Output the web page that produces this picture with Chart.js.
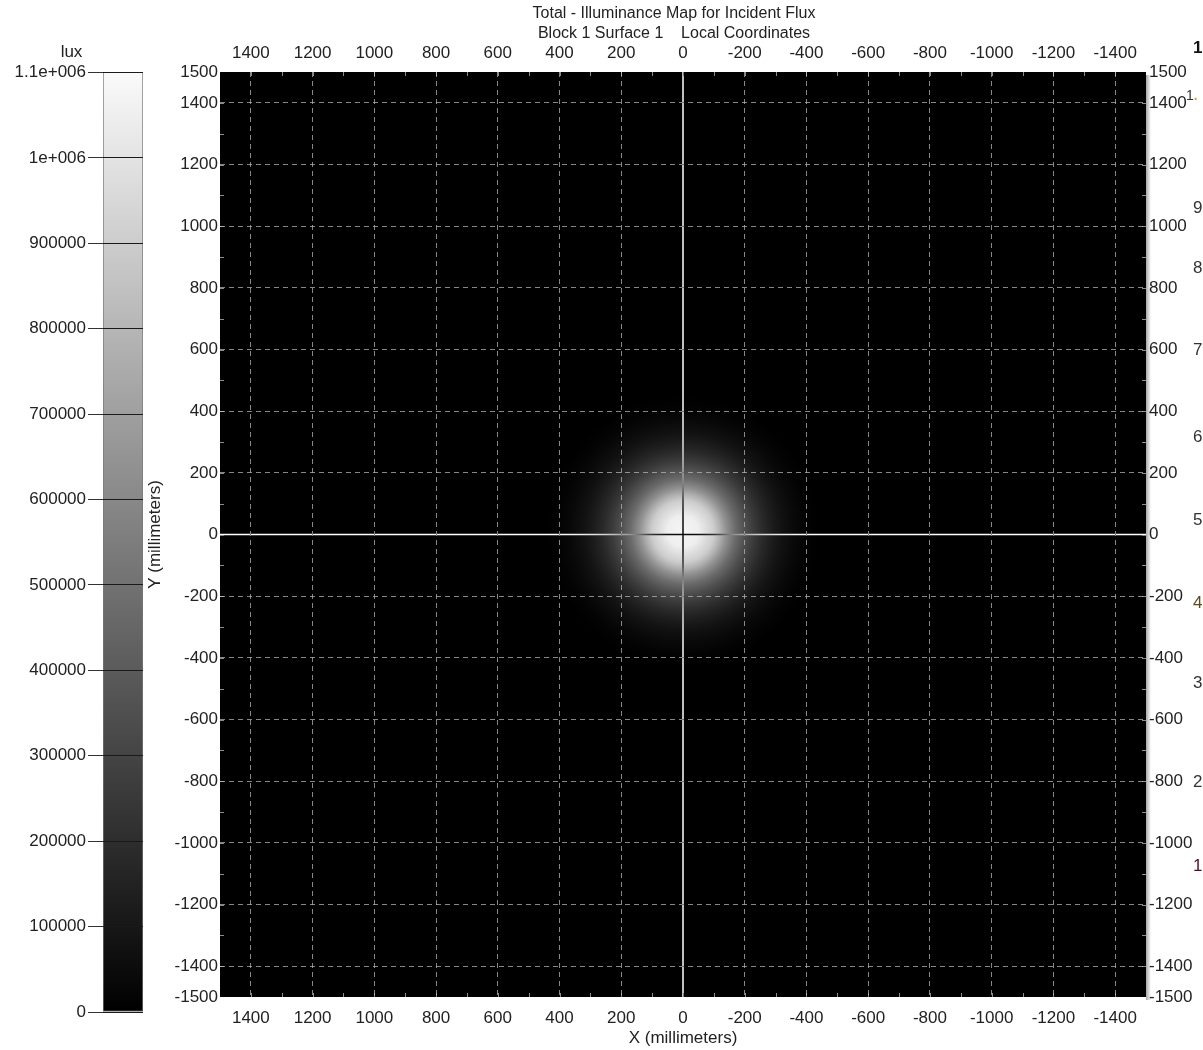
<!DOCTYPE html>
<html>
<head>
<meta charset="utf-8">
<title>Total - Illuminance Map for Incident Flux</title>
<script src="https://cdn.jsdelivr.net/npm/chart.js@4.4.1/dist/chart.umd.min.js"></script>
<style>
  html, body { margin: 0; padding: 0; background: #fff; }
  body { width: 1203px; height: 1050px; position: relative; overflow: hidden; font-family: "Liberation Sans", Arial, sans-serif; }
  #barWrap { position: absolute; left: 0; top: 0; width: 145px; height: 1050px; }
  #mapWrap { position: absolute; left: 145px; top: 0; width: 1058px; height: 1050px; }
  #edge { position: absolute; left: 1185px; top: 0; width: 18px; height: 1050px; overflow: hidden; }
  #edge span { position: absolute; left: 8px; font-size: 17px; line-height: 20px; color: #333; }
</style>
</head>
<body>
<div id="barWrap"><canvas id="luxBar"></canvas></div>
<div id="mapWrap"><canvas id="luxMap"></canvas></div>
<div id="edge">
  <span style="top:38px;font-weight:bold;color:#111">1</span>
  <span style="top:85px;left:1px;font-size:14px;color:#333">1<b style="color:#e0a030">.</b></span>
  <span style="top:198px">9</span>
  <span style="top:258px">8</span>
  <span style="top:340px">7</span>
  <span style="top:427px">6</span>
  <span style="top:510px">5</span>
  <span style="top:593px;color:#5a4a20">4</span>
  <span style="top:673px">3</span>
  <span style="top:772px">2</span>
  <span style="top:856px;color:#4a1024">1</span>
</div>
<script>
// colour scale (lux)
const luxMax = 1100000;
const luxTicks = [0, 100000, 200000, 300000, 400000, 500000, 600000, 700000, 800000, 900000, 1000000, 1100000];

// map axes (millimeters)
const xTicks = [1400, 1200, 1000, 800, 600, 400, 200, 0, -200, -400, -600, -800, -1000, -1200, -1400];
const yTicks = [1500, 1400, 1200, 1000, 800, 600, 400, 200, 0, -200, -400, -600, -800, -1000, -1200, -1400, -1500];

// spot centre and radial illuminance profile
const peakCenter = [0, 10];
const profileRadius = [0, 50, 100, 120, 140, 170, 200, 230, 260, 290, 320, 360, 400, 440];
const profileLux = [1080000, 1050000, 900000, 780000, 640000, 470000, 350000, 255000, 180000, 125000, 80000, 40000, 15000, 0];

const textFont = { family: '"Liberation Sans", Arial, sans-serif', size: 17 };
const textColor = '#222';

function grey(lux) {
  const g = Math.round(Math.max(0, Math.min(1, lux / luxMax)) * 250);
  return 'rgb(' + g + ',' + g + ',' + g + ')';
}

function luxLabel(v) {
  if (v >= 1000000) return (v / 1000000) + 'e+006';
  return String(v);
}

// ---------- colour bar ----------
new Chart(document.getElementById('luxBar'), {
  type: 'bar',
  data: {
    labels: ['lux'],
    datasets: [{
      data: [luxMax],
      backgroundColor: c => {
        const y = c.chart.scales.y;
        if (!c.chart.chartArea || !y) return '#888';
        const y0 = y.getPixelForValue(0), y1 = y.getPixelForValue(luxMax);
        if (!isFinite(y0) || !isFinite(y1)) return '#888';
        const g = c.chart.ctx.createLinearGradient(0, y0, 0, y1);
        g.addColorStop(0, grey(0));
        g.addColorStop(1, grey(luxMax));
        return g;
      },
      borderColor: '#777',
      borderWidth: 1,
      borderSkipped: false,
      barPercentage: 1,
      categoryPercentage: 1
    }]
  },
  options: {
    responsive: true,
    maintainAspectRatio: false,
    animation: false,
    layout: { padding: { left: 0, right: 2, top: 0, bottom: 38 } },
    plugins: {
      legend: { display: false },
      tooltip: { enabled: false },
      title: {
        display: true,
        text: 'lux',
        color: textColor,
        font: { family: textFont.family, size: 17, weight: 'normal' },
        padding: { top: 42, bottom: 10 }
      }
    },
    scales: {
      x: { display: false },
      y: {
        min: 0,
        max: luxMax,
        afterBuildTicks: s => { s.ticks = luxTicks.map(v => ({ value: v })); },
        afterFit: s => { s.width = 103; },
        ticks: { color: textColor, font: textFont, padding: 2, autoSkip: false, callback: v => luxLabel(v) },
        grid: { color: '#1a1a1a', tickColor: '#333', tickLength: 15, z: 1 },
        border: { display: false }
      }
    }
  }
});

// ---------- illuminance map ----------
const spotPlugin = {
  id: 'spot',
  beforeDraw(chart) {
    const { ctx, chartArea: a, scales: { x, y } } = chart;
    ctx.save();
    ctx.fillStyle = '#000';
    ctx.fillRect(a.left, a.top, a.right - a.left, a.bottom - a.top);
    ctx.beginPath();
    ctx.rect(a.left, a.top, a.right - a.left, a.bottom - a.top);
    ctx.clip();
    const cx = x.getPixelForValue(peakCenter[0]);
    const cy = y.getPixelForValue(peakCenter[1]);
    const rMax = profileRadius[profileRadius.length - 1];
    const rPx = Math.abs(x.getPixelForValue(peakCenter[0] + rMax) - cx);
    const g = ctx.createRadialGradient(cx, cy, 0, cx, cy, rPx);
    profileRadius.forEach((r, i) => g.addColorStop(r / rMax, grey(profileLux[i])));
    ctx.fillStyle = g;
    ctx.beginPath();
    ctx.arc(cx, cy, rPx, 0, Math.PI * 2);
    ctx.fill();
    ctx.restore();
  },
  afterDatasetsDraw(chart) {
    const { ctx, chartArea: a, scales: { x, y } } = chart;
    ctx.save();
    // small inside ticks every 100 mm on the frame
    ctx.strokeStyle = 'rgba(200,200,200,0.7)';
    ctx.lineWidth = 1;
    for (let v = -1400; v <= 1400; v += 100) {
      const px = Math.round(x.getPixelForValue(v)) + 0.5;
      const py = Math.round(y.getPixelForValue(v)) + 0.5;
      ctx.beginPath();
      ctx.moveTo(px, a.top); ctx.lineTo(px, a.top + 4);
      ctx.moveTo(px, a.bottom); ctx.lineTo(px, a.bottom - 4);
      ctx.moveTo(a.left, py); ctx.lineTo(a.left + 4, py);
      ctx.moveTo(a.right, py); ctx.lineTo(a.right - 4, py);
      ctx.stroke();
    }
    // zero axes, inverted against the map
    ctx.globalCompositeOperation = 'difference';
    ctx.strokeStyle = '#fff';
    ctx.lineWidth = 1.5;
    const x0 = x.getPixelForValue(0);
    const y0 = y.getPixelForValue(0);
    ctx.beginPath();
    ctx.moveTo(x0, a.top); ctx.lineTo(x0, a.bottom);
    ctx.moveTo(a.left, y0); ctx.lineTo(a.right, y0);
    ctx.stroke();
    ctx.restore();
    // faint shadow along the right edge of the plot
    const sh = ctx.createLinearGradient(a.right, 0, a.right + 5, 0);
    sh.addColorStop(0, 'rgba(0,0,0,0.35)');
    sh.addColorStop(1, 'rgba(0,0,0,0)');
    ctx.fillStyle = sh;
    ctx.fillRect(a.right, a.top + 3, 5, a.bottom - a.top);
  }
};

const gridColor = c => {
  const v = c.tick ? c.tick.value : 0;
  return (v === 0 || Math.abs(v) === 1500) ? 'rgba(0,0,0,0)' : 'rgba(180,180,180,0.75)';
};

const axisTicks = { color: textColor, font: textFont, autoSkip: false, maxRotation: 0, callback: v => String(v) };

new Chart(document.getElementById('luxMap'), {
  type: 'scatter',
  data: {
    datasets: [{
      label: 'peak',
      data: [{ x: peakCenter[0], y: peakCenter[1] }],
      pointRadius: 0
    }]
  },
  options: {
    responsive: true,
    maintainAspectRatio: false,
    animation: false,
    layout: { padding: 0 },
    plugins: {
      legend: { display: false },
      tooltip: { enabled: false },
      title: {
        display: true,
        text: ['Total - Illuminance Map for Incident Flux', 'Block 1 Surface 1    Local Coordinates'],
        color: textColor,
        font: { family: textFont.family, size: 16, lineHeight: 1.25, weight: 'normal' },
        padding: { top: 4, bottom: 0 }
      }
    },
    scales: {
      x: {
        position: 'bottom',
        reverse: true,
        min: -1500,
        max: 1500,
        afterBuildTicks: s => { s.ticks = xTicks.map(v => ({ value: v })); },
        afterFit: s => { s.height = 53; },
        ticks: { ...axisTicks, padding: 11 },
        grid: { color: gridColor, drawTicks: false },
        border: { display: false, dash: [5, 4] },
        title: { display: true, text: 'X (millimeters)', color: textColor, font: textFont, padding: { top: 0, bottom: 1 } }
      },
      x2: {
        position: 'top',
        reverse: true,
        min: -1500,
        max: 1500,
        afterBuildTicks: s => { s.ticks = xTicks.map(v => ({ value: v })); },
        afterFit: s => { s.height = 28; },
        ticks: { ...axisTicks, padding: 8 },
        grid: { display: false, drawTicks: false },
        border: { display: false }
      },
      y: {
        position: 'left',
        min: -1500,
        max: 1500,
        afterBuildTicks: s => { s.ticks = yTicks.map(v => ({ value: v })); },
        afterFit: s => { s.width = 75; },
        ticks: { ...axisTicks, padding: 2 },
        grid: { color: gridColor, drawTicks: false },
        border: { display: false, dash: [5, 4] },
        title: { display: true, text: 'Y (millimeters)', color: textColor, font: textFont, padding: { top: 0, bottom: 0 } }
      },
      y2: {
        position: 'right',
        min: -1500,
        max: 1500,
        afterBuildTicks: s => { s.ticks = yTicks.map(v => ({ value: v })); },
        afterFit: s => { s.width = 57; },
        ticks: { ...axisTicks, padding: 3 },
        grid: { display: false, drawTicks: false },
        border: { display: false }
      }
    }
  },
  plugins: [spotPlugin]
});
</script>
</body>
</html>
